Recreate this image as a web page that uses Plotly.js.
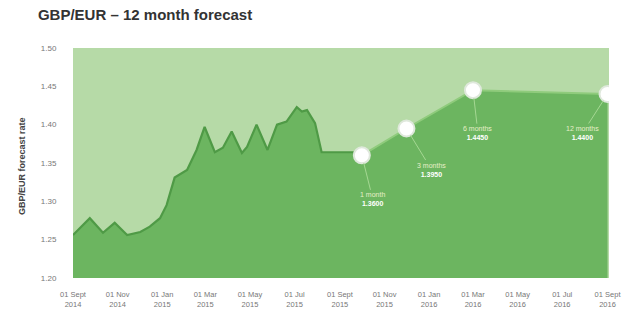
<!DOCTYPE html>
<html>
<head>
<meta charset="utf-8">
<script src="https://cdn.plot.ly/plotly-3.0.1.min.js"></script>
<style>html,body{margin:0;padding:0;background:#fff;}#chart{width:622px;height:315px;}</style>
</head>
<body>
<div id="chart"></div>
<script>
// Historical GBP/EUR rate
const histDates = ['2014-09-01','2014-09-24','2014-10-12','2014-10-28','2014-11-14','2014-12-02','2014-12-15','2014-12-29','2015-01-07','2015-01-18','2015-02-04','2015-02-17','2015-02-28','2015-03-14','2015-03-25','2015-04-06','2015-04-20','2015-04-27','2015-05-10','2015-05-25','2015-06-07','2015-06-20','2015-07-04','2015-07-11','2015-07-18','2015-07-29','2015-08-07','2015-09-20'];
const histRates = [1.256,1.278,1.259,1.272,1.256,1.260,1.267,1.278,1.295,1.331,1.341,1.367,1.397,1.364,1.370,1.391,1.363,1.371,1.400,1.367,1.400,1.404,1.423,1.417,1.419,1.402,1.364,1.364];

// Forecast points
const fcDates = ['2015-10-01','2015-12-01','2016-03-01','2016-09-01'];
const fcRates = [1.3600,1.3950,1.4450,1.4400];
const fcLabels = ['1 month','3 months','6 months','12 months'];
const fcOffsets = [[11,44],[25,41],[5,43],[-25,39]];

// Axis ticks
const yTicks = [1.20,1.25,1.30,1.35,1.40,1.45,1.50];
const xTickVals = ['2014-09-01','2014-11-01','2015-01-01','2015-03-01','2015-05-01','2015-07-01','2015-09-01','2015-11-01','2016-01-01','2016-03-01','2016-05-01','2016-07-01','2016-09-01'];
const xTickText = ['01 Sept<br>2014','01 Nov<br>2014','01 Jan<br>2015','01 Mar<br>2015','01 May<br>2015','01 Jul<br>2015','01 Sept<br>2015','01 Nov<br>2015','01 Jan<br>2016','01 Mar<br>2016','01 May<br>2016','01 Jul<br>2016','01 Sept<br>2016'];

const FONT = 'Liberation Sans, Arial, sans-serif';
const dark = '#6cb560';
const lineDark = '#4f9a46';
const light = '#b6daa7';

const lastD = histDates[histDates.length-1];
const lastR = histRates[histRates.length-1];

const traces = [
  // single filled area covering history + forecast (no seam)
  {x: histDates.concat(fcDates), y: histRates.concat(fcRates), type:'scatter', mode:'lines',
   fill:'tozeroy', fillcolor: dark, line:{color: dark, width:0}, hoverinfo:'skip'},
  // forecast boundary line
  {x: [lastD].concat(fcDates), y: [lastR].concat(fcRates), type:'scatter', mode:'lines',
   line:{color:'#8fcb7c', width:2}, hoverinfo:'skip'},
  // historical line
  {x: histDates, y: histRates, type:'scatter', mode:'lines',
   line:{color: lineDark, width:2.2}, hoverinfo:'skip'},
  {x: fcDates, y: fcRates, type:'scatter', mode:'markers',
   marker:{size:16, color:'#ffffff', line:{color:'#dfe8dc', width:2}}, hoverinfo:'skip'}
];

const annotations = fcDates.map((d,i)=>({
  x: d, y: fcRates[i], xref:'x', yref:'y',
  text: '<span style="color:#e6efc8">'+fcLabels[i]+'</span><br><b>'+fcRates[i].toFixed(4)+'</b>',
  showarrow:true, arrowhead:0, arrowwidth:1, arrowcolor:'#a5d893',
  ax: fcOffsets[i][0], ay: fcOffsets[i][1], standoff: 8,
  font:{family:FONT, size:7, color:'#ffffff'}, align:'center'
}));
annotations.push({
  xref:'paper', yref:'paper', x:-0.108, y:0.487, text:'<b>GBP/EUR forecast rate</b>',
  textangle:-90, showarrow:false, font:{family:FONT, size:9, color:'#444'}
});

const layout = {
  width:622, height:315,
  margin:{l:73, r:13, t:48, b:37},
  paper_bgcolor:'#ffffff', plot_bgcolor: light,
  showlegend:false,
  title:{text:'<b>GBP/EUR – 12 month forecast</b>', x:0.061, xanchor:'left', y:0.952, yanchor:'middle',
         font:{family:FONT, size:15, color:'#333'}},
  xaxis:{type:'date', range:['2014-09-01','2016-09-03'], tickvals:xTickVals, ticktext:xTickText,
         showgrid:false, zeroline:false, showline:false, ticks:'outside', ticklen:9, tickcolor:'rgba(0,0,0,0)',
         tickfont:{family:FONT, size:7.5, color:'#777'}},
  yaxis:{range:[1.20,1.50], tickvals:yTicks, tickformat:'.2f', showgrid:false, zeroline:false, showline:false,
         ticks:'outside', ticklen:14, tickcolor:'rgba(0,0,0,0)',
         tickfont:{family:FONT, size:8, color:'#777'}},
  annotations: annotations
};

Plotly.newPlot('chart', traces, layout, {staticPlot:true, displayModeBar:false});
</script>
</body>
</html>
